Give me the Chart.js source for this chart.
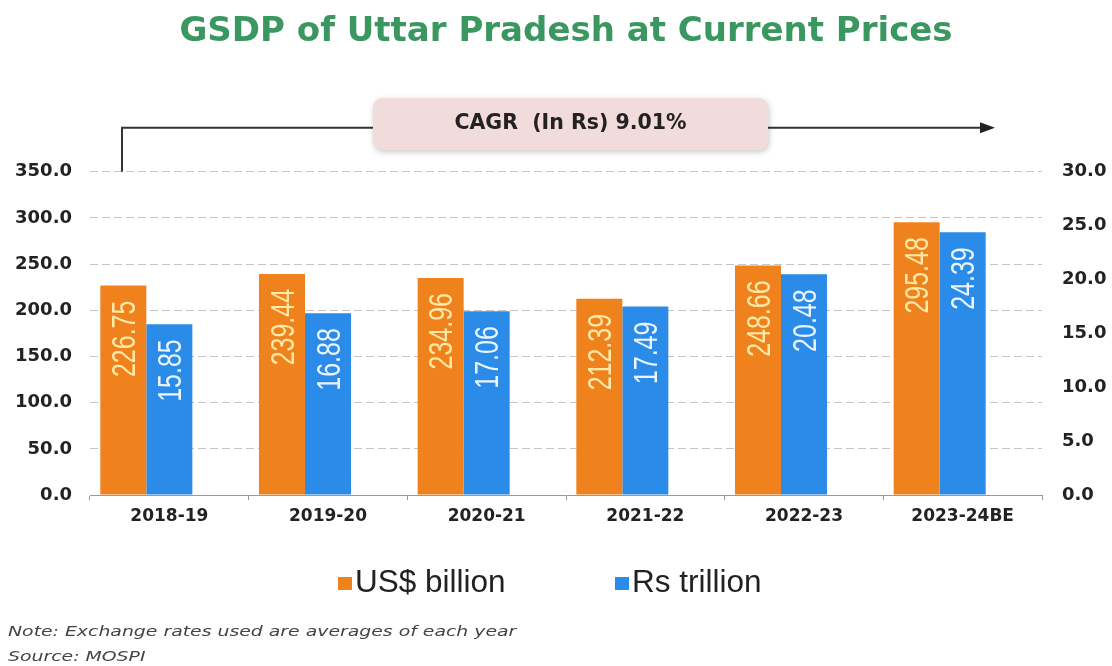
<!DOCTYPE html>
<html>
<head>
<meta charset="utf-8">
<title>GSDP of Uttar Pradesh at Current Prices</title>
<script src="https://cdn.jsdelivr.net/npm/chart.js@4.4.0/dist/chart.umd.min.js"></script>
<style>
    html, body { margin: 0; padding: 0; background: #fff; }
    #wrap { position: relative; width: 1112px; height: 666px; overflow: hidden; }
    #wrap canvas { position: absolute; left: 0; top: 0; }
    .legend-item { position: absolute; top: 563px; height: 30px; line-height: 30px;
        font: 31.5px "Liberation Sans", Arial, sans-serif; color: #222; white-space: nowrap; }
    .legend-item .box { position: absolute; left: 0; top: 14px; width: 14px; height: 13px; }
    .legend-item .txt { position: absolute; left: 17px; top: 0; }
    .note { position: absolute; left: 8px; line-height: 18px;
        font: italic 14.5px "DejaVu Sans", sans-serif; color: #444; white-space: nowrap;
        transform: scaleX(1.3); transform-origin: 0 50%; }
</style>
</head>
<body>
<div id="wrap">
    <canvas id="gsdp-chart" width="1112" height="666"></canvas>
    <div id="legend"></div>
    <div class="note" style="top:623px">Note: Exchange rates used are averages of each year</div>
    <div class="note" style="top:648px">Source: MOSPI</div>
</div>
<script>
(function () {
    "use strict";

    const categories = ["2018-19", "2019-20", "2020-21", "2021-22", "2022-23", "2023-24BE"];
    const usdBillion = [226.75, 239.44, 234.96, 212.39, 248.66, 295.48];
    const rsTrillion = [15.85, 16.88, 17.06, 17.49, 20.48, 24.39];
    const seriesNames = ["US$ billion", "Rs trillion"];
    const cagrText = "CAGR  (In Rs) 9.01%";

    const ORANGE = "#EF821C";
    const BLUE = "#2B8BE9";
    const labelColors = ["#FFE9A6", "#EAF5FF"];
    const tickFont = { family: "DejaVu Sans", weight: "bold", size: 18 };

    // vertical value labels inside the bar tops
    const barLabels = {
        id: "barLabels",
        afterDatasetsDraw(chart) {
            const ctx = chart.ctx;
            [0, 1].forEach((di) => {
                const meta = chart.getDatasetMeta(di);
                const values = chart.data.datasets[di].data;
                meta.data.forEach((bar, i) => {
                    ctx.save();
                    ctx.translate(bar.x, bar.y);
                    ctx.rotate(-Math.PI / 2);
                    ctx.scale(1, 1.3);
                    ctx.font = '25px "Liberation Sans", Arial, sans-serif';
                    ctx.fillStyle = labelColors[di];
                    ctx.textAlign = "right";
                    ctx.textBaseline = "alphabetic";
                    ctx.fillText(values[i].toFixed(2), -15, 9);
                    ctx.restore();
                });
            });
        },
    };

    // CAGR box with the bracket arrow
    const cagrBox = {
        id: "cagrBox",
        afterDraw(chart) {
            const ctx = chart.ctx;
            const a = chart.chartArea;
            const lineY = a.top - 44;
            const boxL = 373, boxR = 768, boxT = 98, boxB = 150;
            ctx.save();
            ctx.strokeStyle = "#333";
            ctx.lineWidth = 2;
            ctx.beginPath();
            ctx.moveTo(a.left + 32, a.top);
            ctx.lineTo(a.left + 32, lineY);
            ctx.lineTo(boxL, lineY);
            ctx.moveTo(boxR, lineY);
            ctx.lineTo(982, lineY);
            ctx.stroke();
            ctx.fillStyle = "#222";
            ctx.beginPath();
            ctx.moveTo(995, lineY);
            ctx.lineTo(980, lineY - 5.5);
            ctx.lineTo(980, lineY + 5.5);
            ctx.closePath();
            ctx.fill();

            ctx.shadowColor = "rgba(0,0,0,0.22)";
            ctx.shadowBlur = 6;
            ctx.shadowOffsetX = 1;
            ctx.shadowOffsetY = 2;
            ctx.fillStyle = "#F2DBDB";
            ctx.beginPath();
            ctx.roundRect(boxL, boxT, boxR - boxL, boxB - boxT, 9);
            ctx.fill();
            ctx.shadowColor = "transparent";
            ctx.fillStyle = "#222";
            ctx.font = 'bold 20.5px "DejaVu Sans", sans-serif';
            ctx.textAlign = "center";
            ctx.textBaseline = "middle";
            ctx.fillText(cagrText, (boxL + boxR) / 2, (boxT + boxB) / 2);
            ctx.restore();
        },
    };

    const chart = new Chart(document.getElementById("gsdp-chart"), {
        type: "bar",
        data: {
            labels: categories,
            datasets: [
                {
                    label: seriesNames[0],
                    data: usdBillion,
                    backgroundColor: ORANGE,
                    yAxisID: "y",
                },
                {
                    label: seriesNames[1],
                    data: rsTrillion,
                    backgroundColor: BLUE,
                    yAxisID: "y1",
                },
                {
                    // empty slot, keeps the pair left of the category centre
                    label: "",
                    data: categories.map(() => null),
                    yAxisID: "y",
                },
            ],
        },
        options: {
            responsive: false,
            animation: false,
            devicePixelRatio: 1,
            categoryPercentage: 0.87,
            barPercentage: 1.0,
            layout: {
                padding: { left: 0, right: 0, top: 0, bottom: 131 },
            },
            plugins: {
                legend: { display: false },
                tooltip: { enabled: false },
                title: {
                    display: true,
                    fullSize: false,
                    text: "GSDP of Uttar Pradesh at Current Prices",
                    color: "#3B9760",
                    font: { family: "DejaVu Sans", size: 34, weight: "bold" },
                    padding: { top: 12, bottom: 119 },
                },
            },
            scales: {
                x: {
                    offset: true,
                    grid: {
                        display: true,
                        drawOnChartArea: false,
                        drawTicks: true,
                        tickLength: 5,
                        color: "#999",
                    },
                    border: { display: true, color: "#999", width: 1 },
                    ticks: {
                        font: { family: "DejaVu Sans", weight: "bold", size: 17 },
                        color: "#222",
                        padding: 6,
                        maxRotation: 0,
                    },
                    afterFit: (s) => { s.height = 40; },
                },
                y: {
                    position: "left",
                    min: 0,
                    max: 350,
                    ticks: {
                        stepSize: 50,
                        callback: (v) => v.toFixed(1),
                        font: tickFont,
                        color: "#222",
                        padding: 18,
                    },
                    grid: { color: "#c4c4c4", drawTicks: false },
                    border: { display: false, dash: [8, 4] },
                    afterFit: (s) => { s.width = 90; },
                },
                y1: {
                    position: "right",
                    min: 0,
                    max: 30,
                    ticks: {
                        stepSize: 5,
                        callback: (v) => v.toFixed(1),
                        font: tickFont,
                        color: "#222",
                        padding: 20,
                    },
                    grid: { drawOnChartArea: false, drawTicks: false },
                    border: { display: false },
                    afterFit: (s) => { s.width = 70; },
                },
            },
        },
        plugins: [barLabels, cagrBox],
    });

    // html legend from the two real series
    const legendLeft = [338, 615];
    const legend = document.getElementById("legend");
    chart.data.datasets.slice(0, 2).forEach((ds, i) => {
        const item = document.createElement("div");
        item.className = "legend-item";
        item.style.left = legendLeft[i] + "px";
        item.innerHTML = '<span class="box" style="background:' + ds.backgroundColor +
            '"></span><span class="txt">' + ds.label + "</span>";
        legend.appendChild(item);
    });
})();
</script>
</body>
</html>
